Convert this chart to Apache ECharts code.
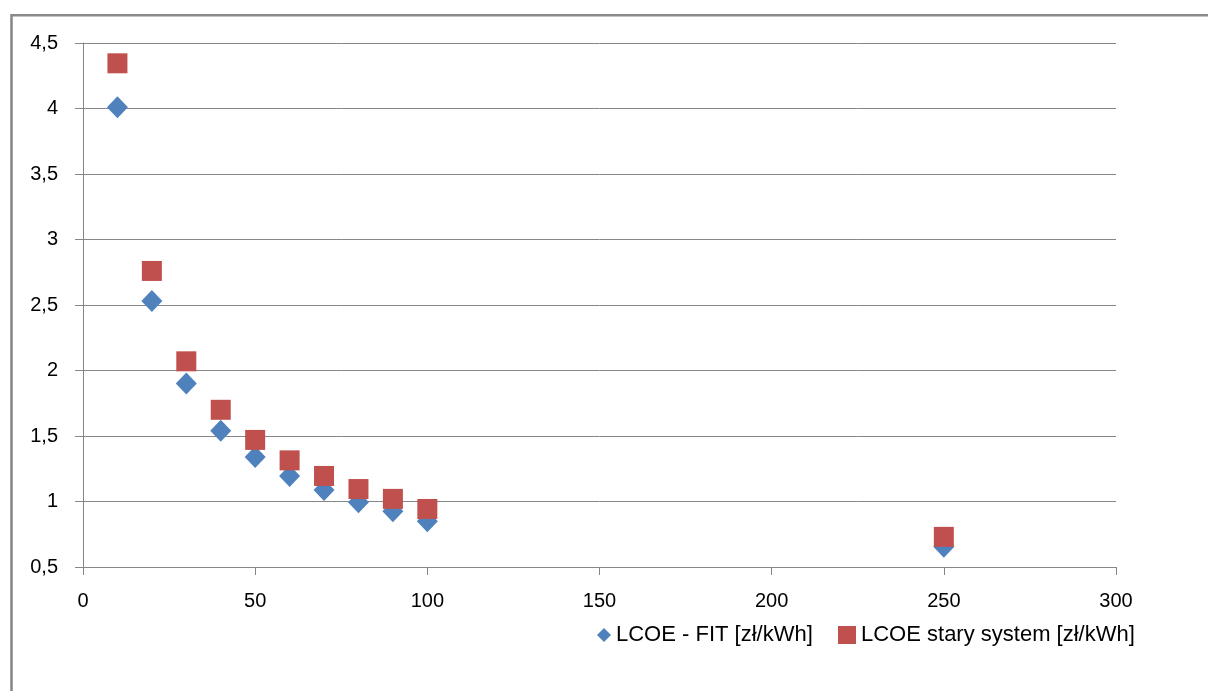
<!DOCTYPE html>
<html>
<head>
<meta charset="utf-8">
<title>LCOE</title>
<script src="https://cdn.jsdelivr.net/npm/echarts@6/dist/echarts.min.js"></script>
<style>
  html, body { margin: 0; padding: 0; background: #ffffff; }
  #chart { width: 1208px; height: 691px; }
</style>
</head>
<body>
<div id="chart"></div>
<script>
// Installed capacity [kW] for each calculated case
const capacity = [10, 20, 30, 40, 50, 60, 70, 80, 90, 100, 250];
// LCOE with feed-in tariff [zł/kWh]
const lcoeFit = [4.01, 2.53, 1.90, 1.54, 1.34, 1.195, 1.088, 0.995, 0.925, 0.85, 0.655];
// LCOE under the old support system [zł/kWh]
const lcoeOld = [4.345, 2.76, 2.07, 1.70, 1.47, 1.314, 1.195, 1.095, 1.02, 0.943, 0.73];

const seriesNames = ['LCOE - FIT [zł/kWh]', 'LCOE stary system [zł/kWh]'];

const gray = '#868686';
const font = 'Liberation Sans, Arial, sans-serif';

const pairs = (xs, ys) => xs.map((x, i) => [x, ys[i]]);

const chart = echarts.init(document.getElementById('chart'), null, { renderer: 'canvas' });

chart.setOption({
  backgroundColor: '#ffffff',
  animation: false,
  graphic: [{
    type: 'rect',
    silent: true,
    z: 100,
    shape: { x: 11.5, y: 15.3, width: 1400, height: 1000 },
    style: { fill: 'none', stroke: '#898989', lineWidth: 2.6 }
  }],
  grid: { left: 83, right: 92, top: 43, bottom: 124, containLabel: false },
  xAxis: {
    type: 'value',
    min: 0,
    max: 300,
    interval: 50,
    axisLine: { show: true, lineStyle: { color: gray, width: 1 } },
    axisTick: { show: true, inside: false, length: 8, lineStyle: { color: gray } },
    splitLine: { show: false },
    axisLabel: { color: '#000000', fontFamily: font, fontSize: 20, margin: 24 }
  },
  yAxis: {
    type: 'value',
    min: 0.5,
    max: 4.5,
    interval: 0.5,
    axisLine: { show: true, lineStyle: { color: gray, width: 1 } },
    axisTick: { show: true, inside: false, length: 8, lineStyle: { color: gray } },
    splitLine: { show: true, lineStyle: { color: gray, width: 1 } },
    axisLabel: {
      color: '#000000', fontFamily: font, fontSize: 20, margin: 25,
      formatter: v => String(v).replace('.', ',')
    }
  },
  legend: [{
    data: [{ name: seriesNames[0], icon: 'diamond' }],
    left: 592, top: 619,
    itemWidth: 14, itemHeight: 14,
    textStyle: { color: '#000000', fontFamily: font, fontSize: 22 },
    selectedMode: false
  }, {
    data: [{ name: seriesNames[1], icon: 'rect' }],
    left: 833, top: 619,
    itemWidth: 18, itemHeight: 18,
    textStyle: { color: '#000000', fontFamily: font, fontSize: 22 },
    selectedMode: false
  }],
  series: [{
    name: seriesNames[0],
    type: 'scatter',
    symbol: 'diamond',
    symbolSize: [21, 22],
    itemStyle: { color: '#4F81BD', opacity: 1 },
    data: pairs(capacity, lcoeFit)
  }, {
    name: seriesNames[1],
    type: 'scatter',
    symbol: 'rect',
    symbolSize: 20,
    itemStyle: { color: '#C0504D', opacity: 1 },
    data: pairs(capacity, lcoeOld)
  }]
});
</script>
</body>
</html>
